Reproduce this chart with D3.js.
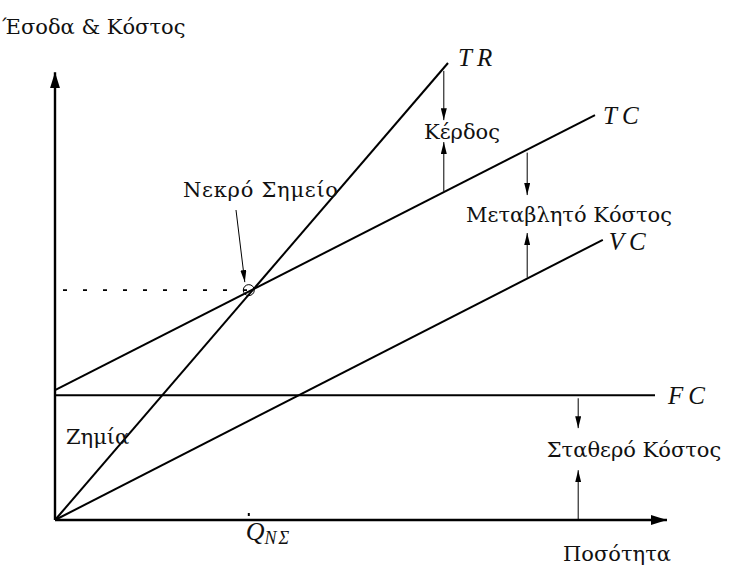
<!DOCTYPE html>
<html>
<head>
<meta charset="utf-8">
<script src="https://cdn.jsdelivr.net/npm/d3@7"></script>
<style>
  body { margin: 0; background: #fff; }
  text { font-family: "DejaVu Serif", serif; fill: #111; }
  .math { font-family: "Liberation Serif", serif; font-style: italic; }
</style>
</head>
<body>
<div id="chart"></div>
<script>
// line names and their start / end points (quantity, value)
const lineNames = ['TR', 'TC', 'VC', 'FC']
const startQ = [0, 0, 0, 0]
const startV = [0, 2.84, 0, 2.73]
const endQ = [6.55, 9.0, 9.13, 10.0]
const endV = [10.0, 8.86, 6.13, 2.73]

// break-even point
const breakEvenQ = 3.23
const breakEvenV = 5.03

// the gaps shown with arrows: label, quantity, upper line, lower line, arrow tips
const gapLabels = ['Κέρδος', 'Μεταβλητό Κόστος', 'Σταθερό Κόστος']
const gapQ = [6.48, 7.87, 8.72]
const gapUpper = ['TR', 'TC', 'FC']
const gapLower = ['TC', 'VC', null]
const gapDownTip = [8.75, 7.11, 2.01]
const gapUpTip = [8.27, 6.28, 1.09]

const axisMaxQ = 10.2
const axisMaxV = 9.8

const width = 738, height = 569
const svg = d3.select('#chart').append('svg')
  .attr('width', width)
  .attr('height', height)

const x = d3.scaleLinear().domain([0, 10]).range([55, 655])
const y = d3.scaleLinear().domain([0, 10]).range([520, 63])

const defs = svg.append('defs')
defs.append('marker')
  .attr('id', 'head-big')
  .attr('markerUnits', 'userSpaceOnUse')
  .attr('viewBox', '0 0 16 10')
  .attr('refX', 16).attr('refY', 5)
  .attr('markerWidth', 16).attr('markerHeight', 10)
  .attr('orient', 'auto')
  .append('path').attr('d', 'M0,0 L16,5 L0,10 Z').attr('fill', '#000')
defs.append('marker')
  .attr('id', 'head-small')
  .attr('markerUnits', 'userSpaceOnUse')
  .attr('viewBox', '0 0 12 6')
  .attr('refX', 12).attr('refY', 3)
  .attr('markerWidth', 12).attr('markerHeight', 6)
  .attr('orient', 'auto')
  .append('path').attr('d', 'M0,0 L12,3 L0,6 Z').attr('fill', '#000')

// value of a named line at quantity q
function lineAt (name, q) {
  if (name === null) return 0
  const i = lineNames.indexOf(name)
  const t = (q - startQ[i]) / (endQ[i] - startQ[i])
  return startV[i] + t * (endV[i] - startV[i])
}

// axes
svg.append('line')
  .attr('x1', x(0)).attr('y1', y(0))
  .attr('x2', x(0)).attr('y2', y(axisMaxV))
  .attr('stroke', '#000').attr('stroke-width', 2.4)
  .attr('marker-end', 'url(#head-big)')
svg.append('line')
  .attr('x1', x(0)).attr('y1', y(0))
  .attr('x2', x(axisMaxQ)).attr('y2', y(0))
  .attr('stroke', '#000').attr('stroke-width', 2.4)
  .attr('marker-end', 'url(#head-big)')

// dotted guide to the break-even point
svg.append('line')
  .attr('x1', x(0)).attr('y1', y(breakEvenV))
  .attr('x2', x(breakEvenQ)).attr('y2', y(breakEvenV))
  .attr('stroke', '#000').attr('stroke-width', 1.6)
  .attr('stroke-dasharray', '4,16')
  .attr('stroke-dashoffset', -8)

// the four lines
const lines = lineNames.map((n, i) => [[startQ[i], startV[i]], [endQ[i], endV[i]]])
const line = d3.line().x(d => x(d[0])).y(d => y(d[1]))
svg.selectAll('path.series')
  .data(lines)
  .enter()
  .append('path')
    .attr('class', 'series')
    .attr('d', d => line(d))
    .attr('fill', 'none')
    .attr('stroke', '#000')
    .attr('stroke-width', 2)

// line labels
const labelDx = [10, 8, 6, 13]
const labelDy = [3, 9, 10, 9]
svg.selectAll('text.name')
  .data(lineNames)
  .enter()
  .append('text')
    .attr('class', 'name math')
    .attr('x', (d, i) => x(endQ[i]) + labelDx[i])
    .attr('y', (d, i) => y(endV[i]) + labelDy[i])
    .attr('font-size', 25)
    .attr('letter-spacing', 5)
    .text(d => d)

// break-even marker
svg.append('circle')
  .attr('cx', x(breakEvenQ)).attr('cy', y(breakEvenV))
  .attr('r', 5.5)
  .attr('fill', 'none').attr('stroke', '#000').attr('stroke-width', 1)

// small tick on the quantity axis
svg.append('line')
  .attr('x1', x(breakEvenQ)).attr('x2', x(breakEvenQ))
  .attr('y1', y(0) - 7).attr('y2', y(0) - 4)
  .attr('stroke', '#000').attr('stroke-width', 2)

const q = svg.append('text')
  .attr('class', 'math')
  .attr('x', x(breakEvenQ) - 3)
  .attr('y', y(0) + 20)
  .attr('font-size', 26)
q.append('tspan').text('Q')
q.append('tspan').attr('font-size', 18).attr('dy', 4).attr('letter-spacing', 2).text('NΣ')

// break-even label and its arrow
svg.append('text')
  .attr('x', 183).attr('y', 197)
  .attr('font-size', 21)
  .attr('textLength', 155)
  .text('Νεκρό Σημείο')
svg.append('line')
  .attr('x1', 236).attr('y1', 210)
  .attr('x2', x(breakEvenQ) - 4).attr('y2', y(breakEvenV) - 8)
  .attr('stroke', '#000').attr('stroke-width', 1)
  .attr('marker-end', 'url(#head-small)')

// gap arrows and labels
const labelX = [462, 569, 634]
gapLabels.forEach((label, i) => {
  const q0 = gapQ[i]
  svg.append('line')
    .attr('x1', x(q0)).attr('y1', y(lineAt(gapUpper[i], q0)) + 3)
    .attr('x2', x(q0)).attr('y2', y(gapDownTip[i]))
    .attr('stroke', '#000').attr('stroke-width', 1)
    .attr('marker-end', 'url(#head-small)')
  svg.append('line')
    .attr('x1', x(q0)).attr('y1', y(lineAt(gapLower[i], q0)) - 1)
    .attr('x2', x(q0)).attr('y2', y(gapUpTip[i]))
    .attr('stroke', '#000').attr('stroke-width', 1)
    .attr('marker-end', 'url(#head-small)')
  svg.append('text')
    .attr('x', labelX[i])
    .attr('y', (y(gapDownTip[i]) + y(gapUpTip[i])) / 2 + 8)
    .attr('text-anchor', 'middle')
    .attr('font-size', 21)
    .text(label)
})

// other texts
svg.append('text').attr('x', 2).attr('y', 34).attr('font-size', 21).text('Έσοδα & Κόστος')
svg.append('text').attr('x', 66).attr('y', 444).attr('font-size', 21).text('Ζημία')
svg.append('text').attr('x', 617).attr('y', 561).attr('text-anchor', 'middle').attr('font-size', 21).text('Ποσότητα')
</script>
</body>
</html>
